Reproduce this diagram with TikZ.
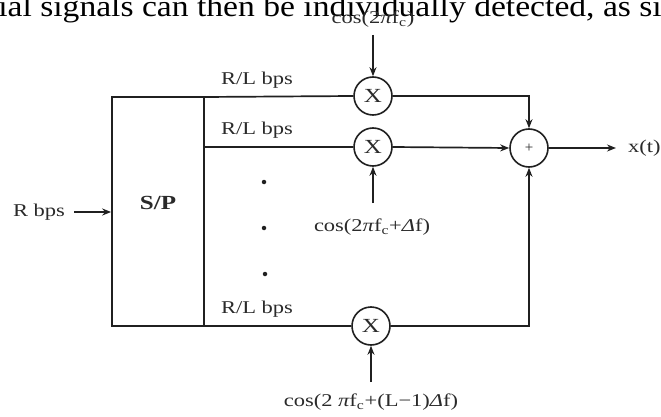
\documentclass[tikz,border=0pt]{standalone}
\usepackage{fontspec}
\usepackage{graphicx}
\setmainfont{Liberation Serif}
\usetikzlibrary{arrows.meta}
\newcommand{\hs}[1]{\scalebox{1.25}[1]{#1}}
\newcommand{\gpi}{{\itshape π}}
\newcommand{\gdel}{{\itshape Δ}}
\definecolor{ink}{HTML}{202020}
\definecolor{txt}{HTML}{2a2a2a}
\begin{document}
\begin{tikzpicture}[x=1pt,y=-1pt,
  wire/.style={draw=ink,line width=1.7pt},
  arr/.style={wire,-{Stealth[length=9pt,width=7pt]}},
  opcirc/.style={circle,draw=ink,line width=1.6pt,minimum size=38pt,inner sep=0pt,font=\fontsize{20}{20}\selectfont,text=txt},
  lbl/.style={inner sep=0pt,font=\fontsize{18}{20}\selectfont,text=txt},
  dotmark/.style={circle,fill=ink,inner sep=0pt,minimum size=4.5pt}]
\useasboundingbox (0,0) rectangle (661,417);
\fill[white] (0,0) rectangle (661,417);
\begin{scope}
\clip (0,0) rectangle (661,417);
\node[anchor=base,inner sep=0pt,font=\fontsize{30}{30}\selectfont,text=black] (para) at (330,17) {\scalebox{1.12}[1]{ial signals can then be individually detected, as si}};
\end{scope}
% S/P box
\node[draw=ink,line width=1.7pt,minimum width=92pt,minimum height=229pt,inner sep=0pt] (sp) at (158,211.5) {};
\node[lbl,font=\fontsize{20}{20}\selectfont\bfseries] (splbl) at (158,203) {\hs{S/P}};
\coordinate (t1) at (204,97);
\coordinate (t2) at (204,147);
\coordinate (t3) at (204,326);
% multipliers
\node[opcirc] (m1) at (373,96) {\hs{X}};
\node[opcirc] (m2) at (373,147) {\hs{X}};
\node[opcirc] (m3) at (371,326) {\hs{X}};
\node[opcirc,font=\fontsize{15}{15}\selectfont] (sum) at (529,148) {+};
% branch lines
\draw[wire] (t1) -- (m1.west);
\draw[wire] (t2) -- (m2.west);
\draw[wire] (t3) -- (m3.west);
% labels
\node[lbl,anchor=base] (rl1) at (257,85) {\hs{R/L bps}};
\node[lbl,anchor=base] (rl2) at (257,135) {\hs{R/L bps}};
\node[lbl,anchor=base] (rl3) at (257,313) {\hs{R/L bps}};
\node[dotmark] (d1) at (264,182) {};
\node[dotmark] (d2) at (264,228) {};
\node[dotmark] (d3) at (265,274) {};
% carriers
\node[lbl] (c1) at (373,19) {\hs{cos(2\gpi f\textsubscript{c})}};
\coordinate (c1a) at (373,35);
\draw[arr] (c1a) -- (m1.north);
\node[lbl] (c2) at (372,227) {\hs{cos(2\gpi f\textsubscript{c}+\gdel f)}};
\coordinate (c2a) at (373,203);
\draw[arr] (c2a) -- (m2.south);
\node[lbl] (c3) at (371,402) {\hs{cos(2 \gpi f\textsubscript{c}+(L−1)\gdel f)}};
\coordinate (c3a) at (371,382);
\draw[arr] (c3a) -- (m3.south);
% to summer
\draw[arr] (m1.east) -| (sum.north);
\draw[arr] (m2.east) -- (sum.west);
\draw[arr] (m3.east) -| (sum.south);
% output
\node[lbl,anchor=west] (xt) at (628,148) {\hs{x(t)}};
\coordinate (xend) at (616,148);
\draw[arr] (sum.east) -- (xend);
% input
\node[lbl] (rin) at (39,212) {\hs{R bps}};
\draw[arr] (rin.east) ++(9,0) -- (sp.west |- rin.east);
\end{tikzpicture}
\end{document}
